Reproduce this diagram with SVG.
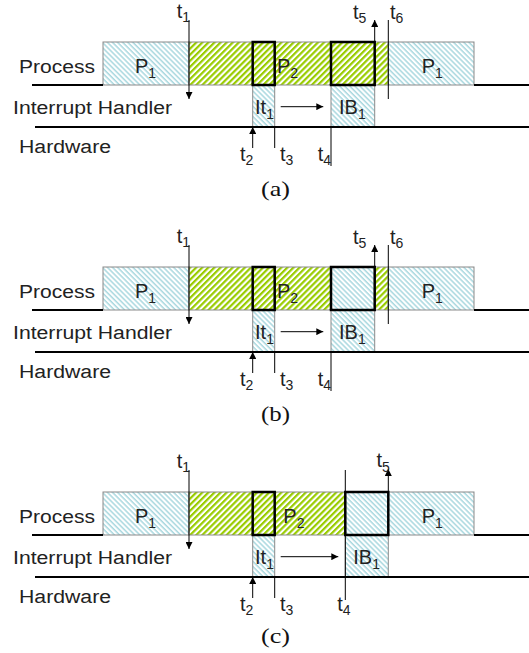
<svg xmlns="http://www.w3.org/2000/svg" width="529" height="653" viewBox="0 0 529 653">
<defs>
<pattern id="blue" patternUnits="userSpaceOnUse" width="3.6" height="3.6" patternTransform="rotate(45)">
<rect width="3.6" height="3.6" fill="#ffffff"/>
<rect width="3.6" height="1.5" fill="#a9d8df"/>
</pattern>
<pattern id="green" patternUnits="userSpaceOnUse" width="4.3" height="4.3" patternTransform="rotate(-45)">
<rect width="4.3" height="4.3" fill="#ffffff"/>
<rect width="4.3" height="2.2" fill="#99cc00"/>
</pattern>
<marker id="ah" viewBox="0 0 10 10" refX="10" refY="5" markerWidth="7" markerHeight="7" markerUnits="userSpaceOnUse" orient="auto">
<path d="M0,0 L10,5 L0,10 z" fill="#000"/>
</marker>
<style>
.lbl{font-family:"Liberation Sans",Arial,sans-serif;font-size:18px;fill:#222}
.t{font-family:"Liberation Sans",Arial,sans-serif;font-size:20px;fill:#222}
.s{font-size:14px}
.cap{font-family:"Liberation Serif","Times New Roman",serif;font-size:22px;fill:#111}
.bx{stroke:#8a8a8a;stroke-width:1}
.thick{fill:none;stroke:#000;stroke-width:2.5}
.base{stroke:#000;stroke-width:2;fill:none}
.ln{stroke:#000;stroke-width:1;fill:none}
.ar{stroke:#000;stroke-width:1;fill:none;marker-end:url(#ah)}
</style>
</defs>
<rect width="529" height="653" fill="#ffffff"/>

<!-- Panel (a) -->
<g id="panel-a">
<g id="a-labels">
<text class="lbl" x="19" y="73" textLength="76" lengthAdjust="spacingAndGlyphs">Process</text>
<text class="lbl" x="13" y="114" textLength="159" lengthAdjust="spacingAndGlyphs">Interrupt Handler</text>
<text class="lbl" x="19" y="153" textLength="92" lengthAdjust="spacingAndGlyphs">Hardware</text>
</g>
<g id="a-p1">
<rect class="bx" x="103" y="42" width="86" height="43" fill="url(#blue)"/>
<text class="t" x="135" y="73">P<tspan class="s" dy="5">1</tspan></text>
</g>
<g id="a-p2">
<rect class="bx" x="189" y="42" width="199.3" height="43" fill="url(#green)"/>
<text class="t" x="277" y="73">P<tspan class="s" dy="5">2</tspan></text>
</g>
<g id="a-p1b">
<rect class="bx" x="388.3" y="42" width="85.7" height="43" fill="url(#blue)"/>
<text class="t" x="421.7" y="73">P<tspan class="s" dy="5">1</tspan></text>
</g>
<g id="a-it1">
<rect class="bx" x="252.7" y="85" width="22" height="42" fill="url(#blue)"/>
<rect class="thick" x="252.7" y="42" width="22" height="43"/>
<text class="t" x="255" y="114">It<tspan class="s" dy="5">1</tspan></text>
</g>
<g id="a-ib1">
<rect class="bx" x="331" y="85" width="43.7" height="42" fill="url(#blue)"/>
<rect class="thick" x="331" y="42" width="43.7" height="43"/>
<text class="t" x="339" y="114">IB<tspan class="s" dy="5">1</tspan></text>
</g>
<g id="a-connectors">
<path class="base" d="M32,85 H103 M474,85 H529 M35,127 H529"/>
<path class="ar" d="M189,20 V99"/>
<path class="ar" d="M252.7,148 V127"/>
<path class="ln" d="M274.7,127 V148 M331,127 V166 M388.3,20 V99"/>
<path class="ar" d="M374.7,42 V20"/>
<path class="ar" d="M280.7,106.7 H323.3"/>
</g>
<g id="a-times">
<text class="t" x="176.7" y="18">t<tspan class="s" dy="4">1</tspan></text>
<text class="t" x="240" y="161">t<tspan class="s" dy="4">2</tspan></text>
<text class="t" x="280" y="161">t<tspan class="s" dy="4">3</tspan></text>
<text class="t" x="317.7" y="161">t<tspan class="s" dy="4">4</tspan></text>
<text class="t" x="353" y="19">t<tspan class="s" dy="4">5</tspan></text>
<text class="t" x="390" y="19">t<tspan class="s" dy="4">6</tspan></text>
</g>
<text class="cap" x="261" y="196" textLength="29" lengthAdjust="spacingAndGlyphs">(a)</text>
</g>

<!-- Panel (b) -->
<g id="panel-b" transform="translate(0,225)">
<g id="b-labels">
<text class="lbl" x="19" y="73" textLength="76" lengthAdjust="spacingAndGlyphs">Process</text>
<text class="lbl" x="13" y="114" textLength="159" lengthAdjust="spacingAndGlyphs">Interrupt Handler</text>
<text class="lbl" x="19" y="153" textLength="92" lengthAdjust="spacingAndGlyphs">Hardware</text>
</g>
<g id="b-p1">
<rect class="bx" x="103" y="42" width="86" height="43" fill="url(#blue)"/>
<text class="t" x="135" y="73">P<tspan class="s" dy="5">1</tspan></text>
</g>
<g id="b-p2">
<rect class="bx" x="189" y="42" width="199.3" height="43" fill="url(#green)"/>
<text class="t" x="277" y="73">P<tspan class="s" dy="5">2</tspan></text>
</g>
<g id="b-p1b">
<rect class="bx" x="388.3" y="42" width="85.7" height="43" fill="url(#blue)"/>
<text class="t" x="421.7" y="73">P<tspan class="s" dy="5">1</tspan></text>
</g>
<g id="b-it1">
<rect class="bx" x="252.7" y="85" width="22" height="42" fill="url(#blue)"/>
<rect class="thick" x="252.7" y="42" width="22" height="43"/>
<text class="t" x="255" y="114">It<tspan class="s" dy="5">1</tspan></text>
</g>
<g id="b-ib1">
<rect class="bx" x="331" y="42" width="43.7" height="85" fill="url(#blue)"/>
<rect class="thick" x="331" y="42" width="43.7" height="43"/>
<text class="t" x="339" y="114">IB<tspan class="s" dy="5">1</tspan></text>
</g>
<g id="b-connectors">
<path class="base" d="M32,85 H103 M474,85 H529 M35,127 H529"/>
<path class="ar" d="M189,20 V99"/>
<path class="ar" d="M252.7,148 V127"/>
<path class="ln" d="M274.7,127 V148 M331,127 V166 M388.3,20 V99"/>
<path class="ar" d="M374.7,42 V20"/>
<path class="ar" d="M280.7,106.7 H323.3"/>
</g>
<g id="b-times">
<text class="t" x="176.7" y="18">t<tspan class="s" dy="4">1</tspan></text>
<text class="t" x="240" y="161">t<tspan class="s" dy="4">2</tspan></text>
<text class="t" x="280" y="161">t<tspan class="s" dy="4">3</tspan></text>
<text class="t" x="317.7" y="161">t<tspan class="s" dy="4">4</tspan></text>
<text class="t" x="353" y="19">t<tspan class="s" dy="4">5</tspan></text>
<text class="t" x="390" y="19">t<tspan class="s" dy="4">6</tspan></text>
</g>
<text class="cap" x="261" y="196" textLength="29" lengthAdjust="spacingAndGlyphs">(b)</text>
</g>

<!-- Panel (c) -->
<g id="panel-c" transform="translate(0,450)">
<g id="c-labels">
<text class="lbl" x="19" y="73" textLength="76" lengthAdjust="spacingAndGlyphs">Process</text>
<text class="lbl" x="13" y="114" textLength="159" lengthAdjust="spacingAndGlyphs">Interrupt Handler</text>
<text class="lbl" x="19" y="153" textLength="92" lengthAdjust="spacingAndGlyphs">Hardware</text>
</g>
<g id="c-p1">
<rect class="bx" x="103" y="42" width="86" height="43" fill="url(#blue)"/>
<text class="t" x="135" y="73">P<tspan class="s" dy="5">1</tspan></text>
</g>
<g id="c-p2">
<rect class="bx" x="189" y="42" width="156.3" height="43" fill="url(#green)"/>
<text class="t" x="283.3" y="73">P<tspan class="s" dy="5">2</tspan></text>
</g>
<g id="c-p1b">
<rect class="bx" x="388.3" y="42" width="85.7" height="43" fill="url(#blue)"/>
<text class="t" x="421.7" y="73">P<tspan class="s" dy="5">1</tspan></text>
</g>
<g id="c-it1">
<rect class="bx" x="252.7" y="85" width="22" height="42" fill="url(#blue)"/>
<rect class="thick" x="252.7" y="42" width="22" height="43"/>
<text class="t" x="255" y="114">It<tspan class="s" dy="5">1</tspan></text>
</g>
<g id="c-ib1">
<rect class="bx" x="345.3" y="42" width="43" height="85" fill="url(#blue)"/>
<rect class="thick" x="345.3" y="42" width="43" height="43"/>
<text class="t" x="353.3" y="114">IB<tspan class="s" dy="5">1</tspan></text>
</g>
<g id="c-connectors">
<path class="base" d="M32,85 H103 M474,85 H529 M35,127 H529"/>
<path class="ar" d="M189,20 V99"/>
<path class="ar" d="M252.7,148 V127"/>
<path class="ln" d="M274.7,127 V148 M345.3,20 V150"/>
<path class="ar" d="M388.3,42 V19"/>
<path class="ar" d="M280.7,106.7 H338.3"/>
</g>
<g id="c-times">
<text class="t" x="176.7" y="18">t<tspan class="s" dy="4">1</tspan></text>
<text class="t" x="240" y="161">t<tspan class="s" dy="4">2</tspan></text>
<text class="t" x="280" y="161">t<tspan class="s" dy="4">3</tspan></text>
<text class="t" x="337.3" y="161">t<tspan class="s" dy="4">4</tspan></text>
<text class="t" x="376.5" y="17">t<tspan class="s" dy="5">5</tspan></text>
</g>
<text class="cap" x="261" y="193" textLength="29" lengthAdjust="spacingAndGlyphs">(c)</text>
</g>
</svg>
